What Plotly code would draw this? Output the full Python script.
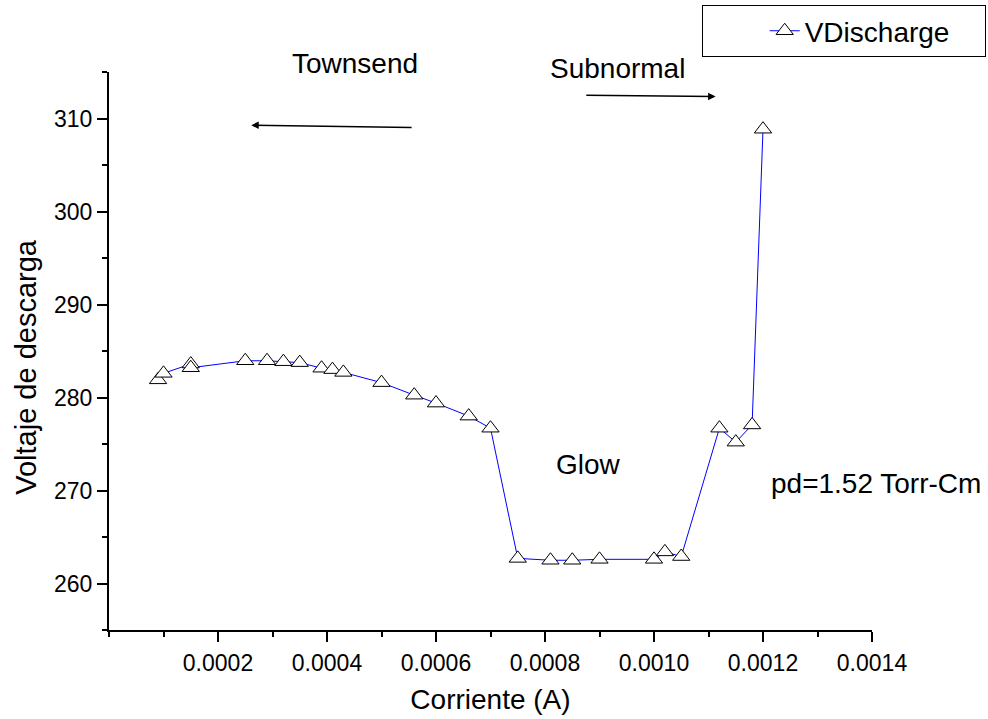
import plotly.graph_objects as go

# Data
corriente = [0.00009, 0.00010, 0.00015, 0.00015, 0.00025, 0.00029, 0.00032, 0.00035,
             0.00039, 0.00041, 0.00043, 0.00050, 0.00056, 0.00060, 0.00066, 0.00070,
             0.00075, 0.00081, 0.00085, 0.00090, 0.00100, 0.00102, 0.00105,
             0.00112, 0.00115, 0.00118, 0.00120]
vdischarge = [281.9, 282.6, 283.6, 283.2, 283.95, 283.95, 283.85, 283.75,
              283.15, 283.0, 282.7, 281.6, 280.25, 279.4, 278.0, 276.7,
              262.7, 262.5, 262.5, 262.6, 262.6, 263.4, 262.9,
              276.7, 275.2, 277.05, 308.85]

x_tickvals = [0.0002, 0.0004, 0.0006, 0.0008, 0.0010, 0.0012, 0.0014]
x_ticktext = ["0.0002", "0.0004", "0.0006", "0.0008", "0.0010", "0.0012", "0.0014"]
y_tickvals = [260, 270, 280, 290, 300, 310]

FONT = "Liberation Sans, Arial, sans-serif"
TXT = 28

fig = go.Figure()
fig.add_trace(go.Scatter(
    x=corriente, y=vdischarge, mode="lines+markers", name="VDischarge",
    line=dict(color="#0000FF", width=1),
    marker=dict(symbol="triangle-up", size=15, color="white",
                line=dict(color="black", width=1)),
))

axis_common = dict(
    showline=True, linecolor="black", linewidth=2, mirror=False,
    showgrid=False, zeroline=False,
    ticks="outside", ticklen=10, tickwidth=2, tickcolor="black",
    tickfont=dict(family=FONT, size=23, color="black"),
)

fig.update_xaxes(
    range=[0, 0.0014], tickmode="array", tickvals=x_tickvals, ticktext=x_ticktext,
    minor=dict(dtick=0.0001, ticks="outside", ticklen=5, tickwidth=2, tickcolor="black"),
    title=dict(text="Corriente (A)", font=dict(family=FONT, size=TXT, color="black"), standoff=15),
    ticklabelstandoff=1,
    **axis_common,
)
fig.update_yaxes(
    range=[255, 315], tickmode="array", tickvals=y_tickvals,
    minor=dict(dtick=5, ticks="outside", ticklen=5, tickwidth=2, tickcolor="black"),
    ticklabelstandoff=0,
    **axis_common,
)

def label(text, x, y, angle=0, size=TXT):
    return dict(text=text, x=x, y=y, xref="paper", yref="paper",
                xanchor="center", yanchor="middle", textangle=angle,
                showarrow=False, font=dict(family=FONT, size=size, color="black"))

annotations = [
    label("Townsend", 0.3228, 1.0149),
    label("Subnormal", 0.667, 1.0066),
    label("Glow", 0.6278, 0.297),
    label("pd=1.52 Torr-Cm", 1.0046, 0.262),
    label("Voltaje de descarga", -0.108, 0.471, angle=-90, size=29),
    # arrows
    dict(text="", x=0.000261, y=309.28, xref="x", yref="y",
         ax=0.000558, ay=309.03, axref="x", ayref="y",
         showarrow=True, arrowhead=2, arrowsize=1, arrowwidth=1.5, arrowcolor="black",
         standoff=0, startstandoff=0),
    dict(text="", x=0.001113, y=312.37, xref="x", yref="y",
         ax=0.000873, ay=312.5, axref="x", ayref="y",
         showarrow=True, arrowhead=2, arrowsize=1, arrowwidth=1.5, arrowcolor="black",
         standoff=0, startstandoff=0),
]

fig.update_layout(
    width=988, height=719,
    margin=dict(l=109, r=116, t=72, b=89, autoexpand=False),
    plot_bgcolor="white", paper_bgcolor="white",
    font=dict(family=FONT, color="black"),
    showlegend=True,
    legend=dict(
        x=0.7768, y=1.12, xanchor="left", yanchor="top",
        orientation="h", entrywidth=175, entrywidthmode="pixels",
        bordercolor="black", borderwidth=1, bgcolor="white",
        font=dict(family=FONT, size=TXT, color="black"),
        indentation=62,
    ),
    annotations=annotations,
)

fig.write_html("out.html")
